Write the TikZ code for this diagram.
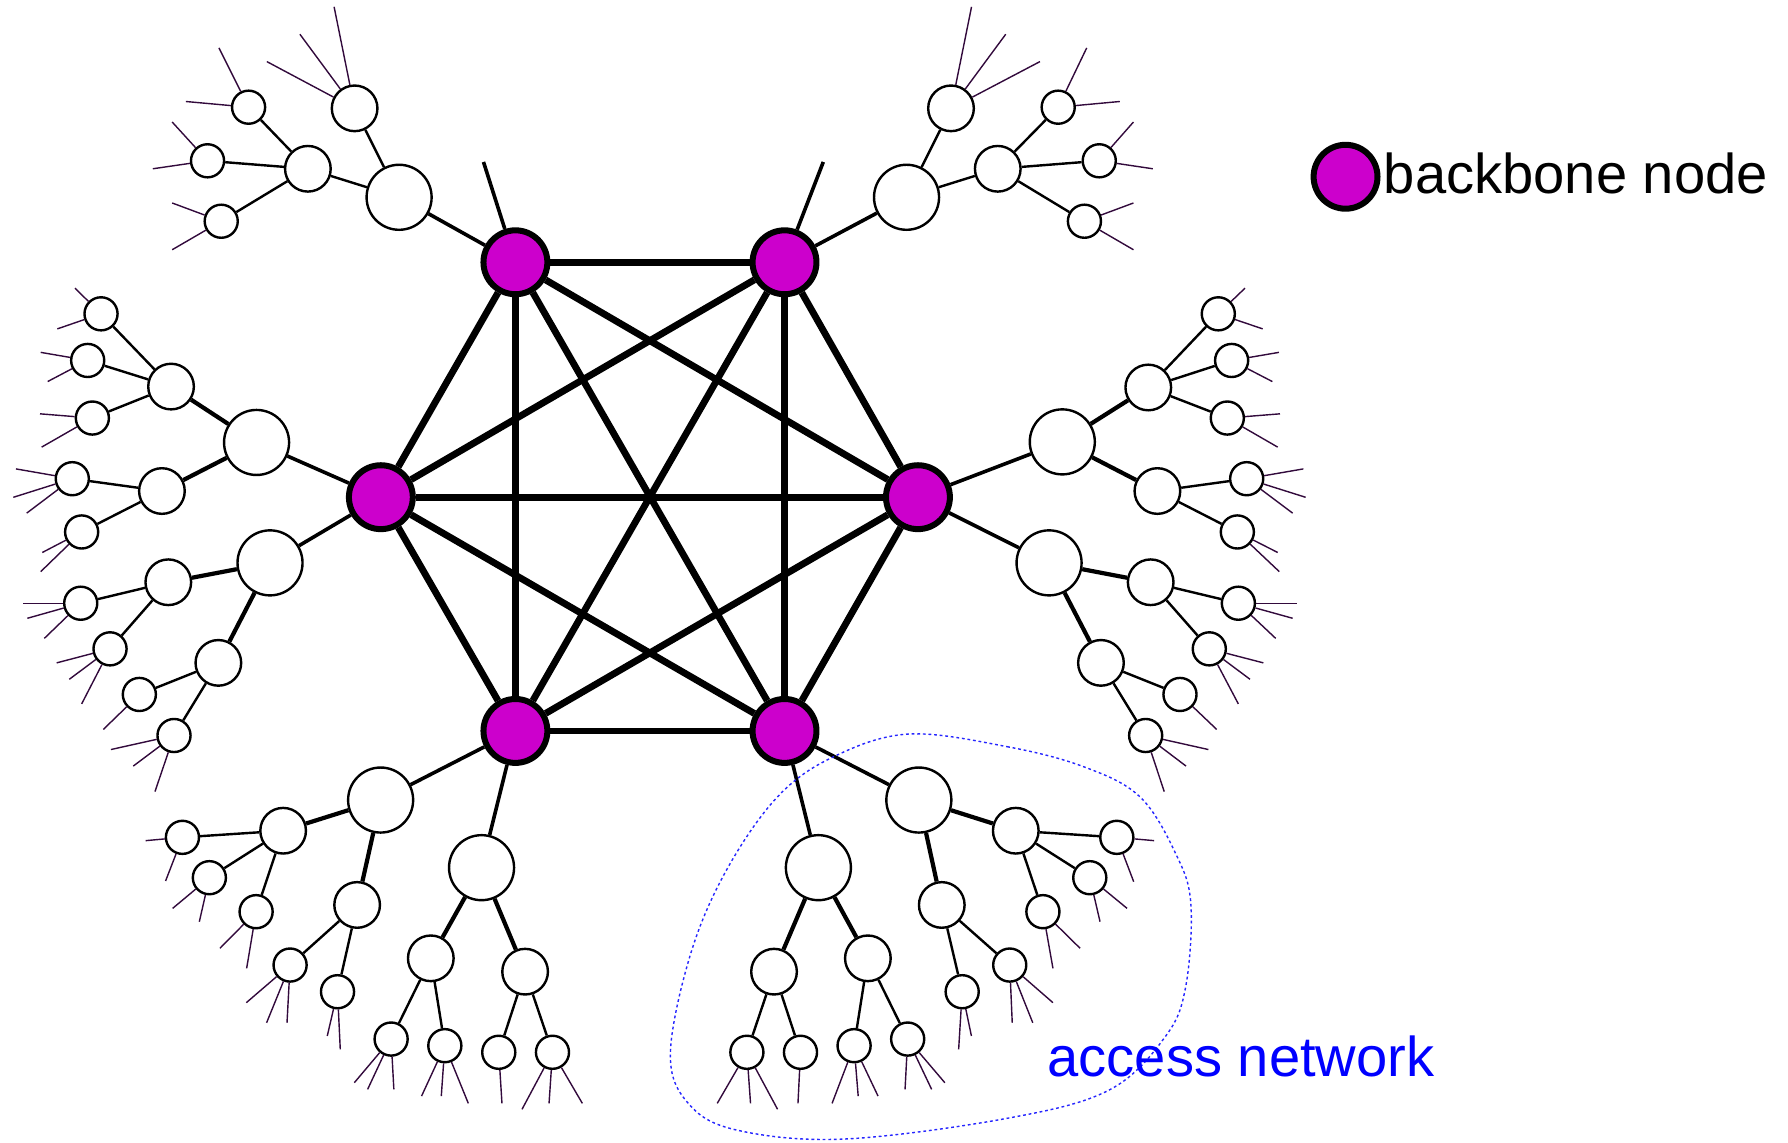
\documentclass[tikz,border=0pt]{standalone}
\usepackage{fontspec}
\setmainfont{Liberation Sans}
\definecolor{bbpurple}{RGB}{204,0,204}
\definecolor{leafpurple}{RGB}{50,10,60}

\begin{document}
\begin{tikzpicture}[x=0.01cm, y=-0.01cm,
    bb/.style={circle, draw, line width=1.5pt, fill=bbpurple, minimum size=0.56cm, inner sep=0pt},
    big/.style={circle, draw, line width=0.6pt, fill=white, minimum size=0.57cm, inner sep=0pt},
    mid/.style={circle, draw, line width=0.6pt, fill=white, minimum size=0.40cm, inner sep=0pt},
    sml/.style={circle, draw, line width=0.6pt, fill=white, minimum size=0.29cm, inner sep=0pt},
    core/.style={line width=1.7pt},
    trunk/.style={line width=0.9pt},
    branch/.style={line width=1.05pt},
    twig/.style={line width=0.6pt},
    leaf/.style={line width=0.35pt, draw=leafpurple},
    lbl/.style={anchor=base west, inner sep=0pt, font=\fontsize{14}{16}\selectfont}]
    \useasboundingbox (0,0) rectangle (1568,1002);

    % Backbone nodes
    \foreach \n/\x/\y in {b1/452/230, b2/688/230, b3/334/436, b4/805/436, b5/452/641, b6/688/641}
        \node[bb] (\n) at (\x,\y) {};

    % Full mesh between backbone nodes
    \foreach \a/\b in {b1/b2, b1/b3, b1/b4, b1/b5, b1/b6, b2/b3, b2/b4, b2/b5, b2/b6,
                       b3/b4, b3/b5, b3/b6, b4/b5, b4/b6, b5/b6}
        \draw[core] (\a) -- (\b);

    % Stubs on the upper backbone nodes
    \coordinate (s1) at (424,142);
    \coordinate (s2) at (722,142);
    \draw[trunk] (b1) -- (s1);
    \draw[trunk] (b2) -- (s2);

    % Access trees: first level
    \foreach \n/\x/\y in {ul/350/173, ur/795/173, lu/225/388, ll/236.8/493.6, ru/931.6/387.5,
                          rl/920/493.6, dl/333.8/701.6, db/422.3/760.9, de/805.8/701.6, dc/717.7/760.9}
        \node[big] (\n) at (\x,\y) {};

    % Second level
    \foreach \n/\x/\y in {ul1/311/95, ul2/270/148, ur1/834/95, ur2/875/148,
                          lu1/150/339, lu2/142/430.6, ll1/147.6/510.6, ll2/191.5/581.3,
                          ru1/1007/339.8, ru2/1015/430.6, rl1/1009.1/510.6, rl2/965.5/581.3,
                          dl1/248.3/728.5, dl2/313.2/793.6, db1/377.8/840.4, db2/460.5/852.1,
                          de1/890.8/728.5, de2/825.9/793.6, dc1/678.8/852.1, dc2/761.1/840.4}
        \node[mid] (\n) at (\x,\y) {};

    % Third level
    \foreach \n/\x/\y in {ul21/218/94, ul22/182/141, ul23/194/194,
                          ur21/928/94, ur22/964/141, ur23/951/194,
                          lu11/88.6/275.2, lu12/76.9/316.1, lu13/81/366.6, lu21/63.4/419.8, lu22/71.6/466.5,
                          ll11/70.8/529, ll12/96.5/569, ll21/122.2/609, ll22/152.6/645,
                          ru11/1068.4/275.2, ru12/1080.1/316.1, ru13/1076.3/366.6, ru21/1093.3/419.8, ru22/1085.1/466.5,
                          rl11/1086/529, rl12/1060.5/569, rl21/1034.8/609, rl22/1004.7/645,
                          dl11/160/734.3, dl12/183.6/769.7, dl13/224.6/799.5, dl21/254.4/846.3, dl22/296/869.7,
                          db11/343/911.2, db12/390.1/917, db21/437.4/922.8, db22/484.5/922.8,
                          de11/979.4/734.3, de12/955.7/769.7, de13/914.6/799.5, de21/885.5/846.3, de22/843.8/869.7,
                          dc11/655/922.8, dc12/702/922.8, dc21/749/917, dc22/796/911.2}
        \node[sml] (\n) at (\x,\y) {};

    % Tree links
    \foreach \a/\b in {b1/ul, b2/ur, b3/lu, b3/ll, b4/ru, b4/rl, b5/dl, b5/db, b6/de, b6/dc}
        \draw[trunk] (\a) -- (\b);
    \foreach \p in {ul, ur}
        \foreach \i in {1,2}
            \draw[twig] (\p) -- (\p\i);
    \foreach \p in {lu, ll, ru, rl, dl, db, de, dc}
        \foreach \i in {1,2}
            \draw[branch] (\p) -- (\p\i);
    \foreach \p/\k in {ul2/3, ur2/3, lu1/3, lu2/2, ll1/2, ll2/2, ru1/3, ru2/2, rl1/2, rl2/2,
                       dl1/3, dl2/2, db1/2, db2/2, de1/3, de2/2, dc1/2, dc2/2}
        \foreach \i in {1,...,\k}
            \draw[twig] (\p) -- (\p\i);

    % Subscriber lines
    \foreach \s/\x/\y [count=\i] in {
        ul1/293/6, ul1/263/30, ul1/234/54,
        ul21/192/42, ul21/163/89, ul22/151/107, ul22/134/148, ul23/151/178, ul23/151/219,
        ur1/852/6, ur1/882/30, ur1/912/54,
        ur21/953/42, ur21/982/89, ur22/994/107, ur22/1011/148, ur23/994/178, ur23/994/219,
        lu11/65.8/252.7, lu11/50.3/288.4, lu12/35.7/309, lu12/41.8/334.6, lu13/35.1/362.9, lu13/36.5/392.1,
        lu21/14/411.2, lu21/11.7/436.1, lu21/23.4/450, lu22/37.1/484.5, lu22/35.7/501.3,
        ll11/20.5/529, ll11/24/542.2, ll11/38.9/559.8, ll12/49.7/581.3, ll12/60.8/595.7, ll12/71.6/617.3,
        ll21/90.6/639.7, ll22/97.3/657.3, ll22/116.9/671.8, ll22/135.9/694.2,
        ru11/1091.8/252.7, ru11/1107.3/288.4, ru12/1121.6/309, ru12/1115.8/334.6, ru13/1122.5/362.9, ru13/1120.5/392.1,
        ru21/1143/411.2, ru21/1145/436.1, ru21/1133.6/450, ru22/1120.5/484.5, ru22/1121.9/501.3,
        rl11/1137.1/529, rl11/1133.6/542.2, rl11/1118.7/559.8, rl12/1107.9/581.3, rl12/1096.2/595.7, rl12/1086/617.3,
        rl21/1067/639.7, rl22/1059.7/657.3, rl22/1040.1/671.8, rl22/1021/694.2,
        dl11/127.7/737.2, dl11/145.2/772.6, dl12/151.4/796.6, dl12/174.8/808.3, dl13/192.9/831.6, dl13/216.3/849.2,
        dl21/216/879.3, dl21/233.8/896.9, dl21/251.7/896.9, dl22/287/908.5, dl22/298.4/920.2,
        db11/310.7/949.5, db11/322.4/955.3, db11/345.4/955.3, db12/369.7/961.2, db12/387/961.2, db12/410.7/967.6,
        db21/440.2/967.6, db22/457.8/972.8, db22/481.5/967.6, db22/510.7/967.6,
        de11/1012.1/737.2, de11/994.2/773.2, de12/988.4/796.6, de12/964.7/808.3, de13/947.2/831.6, de13/923.4/849.2,
        de21/923.4/879.3, de21/905.7/896.9, de21/887.7/896.9, de22/851.9/908.5, de22/840.7/920.2,
        dc11/629/967.6, dc11/658.2/967.6, dc11/681.9/972.8, dc12/699.8/967.6,
        dc21/729.7/967.6, dc21/752.6/961.2, dc21/770/961.2, dc22/793.7/955.3, dc22/817/955.3, dc22/828.6/949.5} {
        \coordinate (tip\i) at (\x,\y);
        \draw[leaf] (\s) -- (tip\i);
    }

    % Outline of one access network
    \draw[blue!85, line width=0.35pt, dash pattern=on 0.7pt off 0.7pt] plot[smooth cycle, tension=0.6] coordinates {
        (796.9,643.7) (883.2,654.8) (950.4,672.4) (999.6,698.7) (1030.9,748.3) (1044.3,792.2)
        (1039.8,865.3) (1021.9,909.1) (972.7,955.9) (883.2,980.7) (740,998.9) (646,991)
        (603.6,967.6) (587.9,923.7) (605.8,836) (637.1,763) (681.9,698.7) (731.1,663.6)};
    \node[lbl, text=blue] (acc) at (918,944) {access network};

    % Legend
    \node[bb] (key) at (1180,155) {};
    \node[lbl] (keytext) at (1213,170) {backbone node};
\end{tikzpicture}
\end{document}
